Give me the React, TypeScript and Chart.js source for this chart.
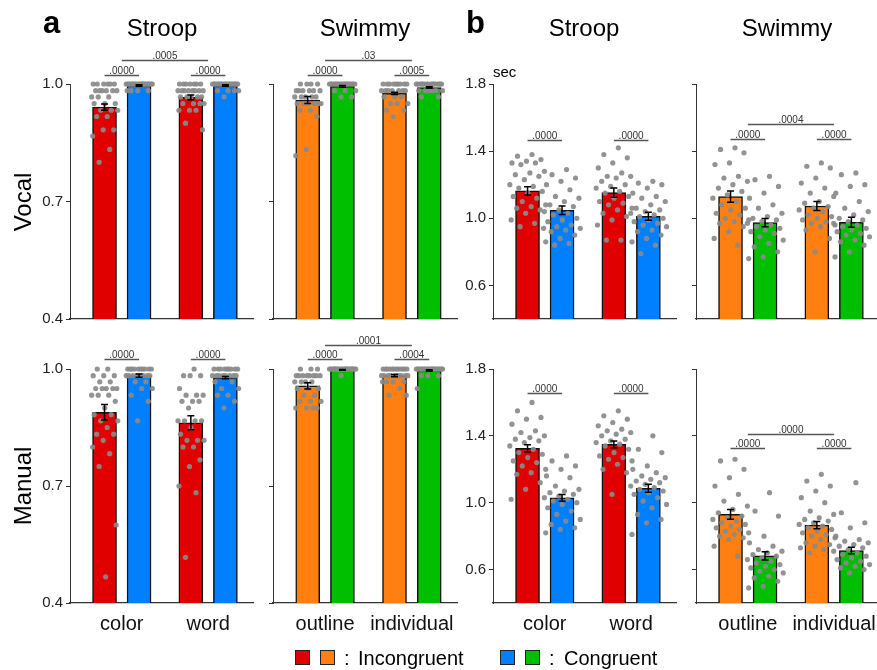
import React, { useEffect, useRef } from 'react';
import { Chart, registerables } from 'chart.js';
Chart.register(...registerables);

const FONT = '"Liberation Sans", Arial, Helvetica, sans-serif';
Chart.defaults.font.family = FONT;

// ---------- categories & ticks ----------
const stroopCats = ['color', 'word'];
const swimmyCats = ['outline', 'individual'];
const accTicks = [0.4, 0.7, 1.0];
const rtTicks = [0.6, 1.0, 1.4, 1.8];

// ---------- (a) accuracy, Vocal, Stroop ----------  order: [color-inc, color-cong, word-inc, word-cong]
const accVocalStroopMean = [0.941, 0.996, 0.966, 0.996];
const accVocalStroopSem = [0.008, 0.002, 0.006, 0.002];
const accVocalStroopColorInc = [1, 1, 1, 1, 1, 1, 0.983, 0.983, 0.983, 0.983, 0.983, 0.983, 0.967, 0.967, 0.967, 0.95, 0.95, 0.95, 0.933, 0.933, 0.933, 0.917, 0.917, 0.883, 0.883, 0.867, 0.833, 0.8];
const accVocalStroopColorCong = [1, 1, 1, 1, 1, 1, 1, 1, 1, 1, 1, 1, 1, 1, 1, 1, 1, 1, 1, 1, 1, 1, 0.983, 0.983, 0.983, 0.983];
const accVocalStroopWordInc = [1, 1, 1, 1, 1, 1, 1, 0.983, 0.983, 0.983, 0.983, 0.983, 0.983, 0.983, 0.983, 0.967, 0.967, 0.967, 0.967, 0.967, 0.95, 0.95, 0.95, 0.95, 0.933, 0.933, 0.933, 0.9, 0.883];
const accVocalStroopWordCong = [1, 1, 1, 1, 1, 1, 1, 1, 1, 1, 1, 1, 1, 1, 1, 1, 1, 1, 1, 1, 0.983, 0.983, 0.983, 0.983, 0.967];
const accVocalStroopPairP = ['.0000', '.0000'];
const accVocalStroopTopP = '.0005';

// ---------- (a) accuracy, Vocal, Swimmy ----------
const accVocalSwimmyMean = [0.959, 0.994, 0.976, 0.991];
const accVocalSwimmySem = [0.009, 0.002, 0.003, 0.002];
const accVocalSwimmyOutlineInc = [1, 1, 1, 1, 0.983, 0.983, 0.983, 0.983, 0.983, 0.983, 0.967, 0.967, 0.967, 0.967, 0.967, 0.95, 0.95, 0.95, 0.95, 0.95, 0.95, 0.933, 0.933, 0.917, 0.833, 0.817];
const accVocalSwimmyOutlineCong = [1, 1, 1, 1, 1, 1, 1, 1, 1, 1, 1, 1, 1, 1, 1, 1, 1, 1, 1, 1, 0.983, 0.983, 0.983, 0.967, 0.967];
const accVocalSwimmyIndivInc = [1, 1, 1, 1, 1, 1, 1, 1, 1, 0.983, 0.983, 0.983, 0.983, 0.983, 0.983, 0.983, 0.967, 0.967, 0.967, 0.95, 0.95, 0.95, 0.933, 0.933, 0.917];
const accVocalSwimmyIndivCong = [1, 1, 1, 1, 1, 1, 1, 1, 1, 1, 1, 1, 1, 1, 1, 1, 0.983, 0.983, 0.983, 0.983, 0.983, 0.983, 0.967, 0.967];
const accVocalSwimmyPairP = ['.0000', '.0005'];
const accVocalSwimmyTopP = '.03';

// ---------- (a) accuracy, Manual, Stroop ----------
const accManualStroopMean = [0.889, 0.983, 0.862, 0.978];
const accManualStroopSem = [0.02, 0.004, 0.018, 0.003];
const accManualStroopColorInc = [1, 1, 0.983, 0.983, 0.983, 0.967, 0.967, 0.95, 0.95, 0.95, 0.95, 0.95, 0.933, 0.933, 0.933, 0.917, 0.9, 0.883, 0.883, 0.867, 0.867, 0.85, 0.833, 0.833, 0.817, 0.8, 0.783, 0.75, 0.6, 0.467];
const accManualStroopColorCong = [1, 1, 1, 1, 1, 1, 1, 1, 1, 1, 0.983, 0.983, 0.983, 0.983, 0.983, 0.983, 0.983, 0.983, 0.967, 0.967, 0.95, 0.95, 0.933, 0.917, 0.867];
const accManualStroopWordInc = [1, 0.983, 0.983, 0.983, 0.95, 0.933, 0.933, 0.933, 0.917, 0.917, 0.917, 0.9, 0.867, 0.867, 0.867, 0.867, 0.85, 0.833, 0.817, 0.817, 0.817, 0.8, 0.8, 0.767, 0.75, 0.7, 0.683, 0.517];
const accManualStroopWordCong = [1, 1, 1, 1, 1, 1, 1, 1, 1, 0.983, 0.983, 0.983, 0.983, 0.983, 0.983, 0.983, 0.983, 0.967, 0.967, 0.95, 0.95, 0.933, 0.933, 0.917, 0.9];
const accManualStroopPairP = ['.0000', '.0000'];

// ---------- (a) accuracy, Manual, Swimmy ----------
const accManualSwimmyMean = [0.957, 0.998, 0.983, 0.996];
const accManualSwimmySem = [0.008, 0.001, 0.003, 0.002];
const accManualSwimmyOutlineInc = [1, 1, 1, 0.983, 0.983, 0.983, 0.983, 0.983, 0.983, 0.983, 0.983, 0.967, 0.967, 0.967, 0.967, 0.95, 0.95, 0.95, 0.933, 0.933, 0.917, 0.917, 0.917, 0.9, 0.9, 0.9, 0.9];
const accManualSwimmyOutlineCong = [1, 1, 1, 1, 1, 1, 1, 1, 1, 1, 1, 1, 1, 1, 1, 1, 1, 1, 1, 1, 1, 1, 1, 1, 0.983];
const accManualSwimmyIndivInc = [1, 1, 1, 1, 1, 1, 1, 1, 1, 1, 1, 1, 0.983, 0.983, 0.983, 0.983, 0.983, 0.983, 0.983, 0.983, 0.983, 0.983, 0.967, 0.967, 0.967, 0.967, 0.95, 0.933, 0.933];
const accManualSwimmyIndivCong = [1, 1, 1, 1, 1, 1, 1, 1, 1, 1, 1, 1, 1, 1, 1, 1, 1, 1, 1, 1, 1, 1, 0.983, 0.983, 0.983, 0.95];
const accManualSwimmyPairP = ['.0000', '.0004'];
const accManualSwimmyTopP = '.0001';

// ---------- (b) RT, Vocal, Stroop ----------
const rtVocalStroopMean = [1.163, 1.048, 1.153, 1.012];
const rtVocalStroopSem = [0.025, 0.025, 0.027, 0.024];
const rtVocalStroopColorInc = [1.38, 1.37, 1.35, 1.34, 1.33, 1.33, 1.32, 1.28, 1.27, 1.26, 1.25, 1.23, 1.2, 1.19, 1.18, 1.16, 1.15, 1.13, 1.12, 1.1, 1.08, 1.07, 1.06, 1.05, 1.03, 0.99, 0.97, 0.95, 0.94];
const rtVocalStroopColorCong = [1.29, 1.26, 1.24, 1.22, 1.2, 1.17, 1.13, 1.12, 1.1, 1.08, 1.07, 1.05, 1.04, 1.03, 1.02, 1.0, 0.99, 0.98, 0.96, 0.95, 0.94, 0.93, 0.92, 0.9, 0.88, 0.86, 0.85, 0.84];
const rtVocalStroopWordInc = [1.42, 1.38, 1.36, 1.33, 1.3, 1.27, 1.25, 1.25, 1.24, 1.22, 1.2, 1.19, 1.18, 1.16, 1.15, 1.13, 1.12, 1.1, 1.09, 1.08, 1.06, 1.05, 1.03, 1.01, 0.99, 0.96, 0.87, 0.87];
const rtVocalStroopWordCong = [1.22, 1.21, 1.2, 1.18, 1.15, 1.13, 1.12, 1.1, 1.08, 1.06, 1.05, 1.04, 1.03, 1.02, 1.01, 1.0, 0.99, 0.98, 0.97, 0.96, 0.95, 0.93, 0.92, 0.9, 0.88, 0.86, 0.84, 0.79];
const rtVocalStroopPairP = ['.0000', '.0000'];

// ---------- (b) RT, Vocal, Swimmy ----------
const rtVocalSwimmyMean = [1.129, 0.974, 1.073, 0.976];
const rtVocalSwimmySem = [0.034, 0.025, 0.027, 0.03];
const rtVocalSwimmyOutlineInc = [1.42, 1.41, 1.39, 1.33, 1.32, 1.25, 1.24, 1.22, 1.2, 1.18, 1.16, 1.14, 1.12, 1.1, 1.08, 1.06, 1.05, 1.03, 1.02, 1.0, 0.99, 0.98, 0.97, 0.95, 0.92, 0.88, 0.84];
const rtVocalSwimmyOutlineCong = [1.25, 1.23, 1.19, 1.15, 1.12, 1.08, 1.06, 1.03, 1.01, 1.0, 0.99, 0.98, 0.97, 0.96, 0.95, 0.94, 0.93, 0.92, 0.91, 0.89, 0.87, 0.85, 0.83, 0.8, 0.77, 0.76];
const rtVocalSwimmyIndivInc = [1.33, 1.31, 1.3, 1.24, 1.21, 1.18, 1.15, 1.13, 1.1, 1.09, 1.07, 1.06, 1.05, 1.04, 1.02, 1.01, 1.0, 0.99, 0.98, 0.97, 0.96, 0.95, 0.93, 0.88, 0.8];
const rtVocalSwimmyIndivCong = [1.27, 1.26, 1.2, 1.19, 1.15, 1.1, 1.06, 1.04, 1.02, 1.0, 0.99, 0.98, 0.97, 0.96, 0.95, 0.94, 0.93, 0.92, 0.91, 0.9, 0.89, 0.87, 0.86, 0.84, 0.8, 0.77];
const rtVocalSwimmyPairP = ['.0000', '.0000'];
const rtVocalSwimmyTopP = '.0004';

// ---------- (b) RT, Manual, Stroop ----------
const rtManualStroopMean = [1.325, 1.029, 1.349, 1.086];
const rtManualStroopSem = [0.022, 0.02, 0.02, 0.024];
const rtManualStroopColorInc = [1.6, 1.55, 1.51, 1.5, 1.47, 1.43, 1.42, 1.4, 1.39, 1.38, 1.37, 1.36, 1.34, 1.32, 1.3, 1.29, 1.27, 1.25, 1.24, 1.22, 1.2, 1.18, 1.17, 1.12, 1.08, 1.02];
const rtManualStroopColorCong = [1.28, 1.25, 1.22, 1.2, 1.16, 1.15, 1.1, 1.08, 1.07, 1.06, 1.05, 1.04, 1.03, 1.02, 1.01, 1.0, 0.99, 0.97, 0.95, 0.93, 0.9, 0.89, 0.87, 0.85, 0.84, 0.82];
const rtManualStroopWordInc = [1.55, 1.52, 1.5, 1.48, 1.46, 1.44, 1.43, 1.42, 1.41, 1.4, 1.38, 1.37, 1.36, 1.35, 1.34, 1.32, 1.3, 1.28, 1.27, 1.26, 1.25, 1.23, 1.2, 1.18, 1.05];
const rtManualStroopWordCong = [1.4, 1.32, 1.3, 1.22, 1.2, 1.18, 1.16, 1.15, 1.14, 1.13, 1.12, 1.11, 1.1, 1.09, 1.08, 1.07, 1.06, 1.05, 1.03, 1.01, 0.99, 0.97, 0.93, 0.9, 0.88, 0.81];
const rtManualStroopPairP = ['.0000', '.0000'];

// ---------- (b) RT, Manual, Swimmy ----------
const rtManualSwimmyMean = [0.93, 0.682, 0.866, 0.714];
const rtManualSwimmySem = [0.029, 0.024, 0.022, 0.02];
const rtManualSwimmyOutlineInc = [1.26, 1.25, 1.2, 1.15, 1.1, 1.05, 1.01, 0.98, 0.96, 0.94, 0.92, 0.91, 0.9, 0.89, 0.88, 0.87, 0.86, 0.85, 0.84, 0.83, 0.82, 0.81, 0.8, 0.79, 0.78, 0.74, 0.68];
const rtManualSwimmyOutlineCong = [1.06, 0.95, 0.92, 0.8, 0.76, 0.74, 0.72, 0.71, 0.7, 0.69, 0.68, 0.67, 0.66, 0.65, 0.64, 0.63, 0.62, 0.61, 0.6, 0.59, 0.58, 0.56, 0.55, 0.53, 0.5, 0.49];
const rtManualSwimmyIndivInc = [1.17, 1.13, 1.1, 1.07, 1.03, 1.0, 0.95, 0.93, 0.91, 0.9, 0.89, 0.88, 0.87, 0.86, 0.85, 0.84, 0.83, 0.82, 0.81, 0.8, 0.79, 0.78, 0.76, 0.75, 0.74, 0.73, 0.72, 0.7];
const rtManualSwimmyIndivCong = [1.12, 0.94, 0.88, 0.85, 0.8, 0.78, 0.77, 0.76, 0.75, 0.74, 0.73, 0.72, 0.71, 0.7, 0.69, 0.68, 0.67, 0.66, 0.65, 0.64, 0.63, 0.62, 0.61, 0.6, 0.58];
const rtManualSwimmyPairP = ['.0000', '.0000'];
const rtManualSwimmyTopP = '.0000';

// ---------- styles ----------
const RED = '#e00000';
const BLUE = '#0080ff';
const ORANGE = '#ff8010';
const GREEN = '#00bf00';
const DOT = 'rgba(138,138,138,0.92)';
const AXIS = '#333';

const Y_W = 50;
const PAD_TOP = 50;
const PAD_R = 6;
const X_H = 40;
const X_MIN = -0.6;
const X_MAX = 1.52;
const BAR_OFF = 0.2;

type Bracket = { x1: number; x2: number; y: number; label: string };

type Spec = {
  id: string;
  plotLeft: number;
  plotTop: number;
  plotW: number;
  plotH: number;
  kind: 'acc' | 'rt';
  cats: string[];
  showY: boolean;
  showX: boolean;
  inc: string;
  cong: string;
  mean: number[];
  sem: number[];
  dots: number[][];
  brackets: Bracket[];
};

function pairBrackets(labels: string[], y: number): Bracket[] {
  return labels.map((l, i) => ({ x1: i - BAR_OFF, x2: i + BAR_OFF, y, label: l }));
}
function topBracket(label: string | undefined, y: number): Bracket[] {
  return label ? [{ x1: 0, x2: 1, y, label }] : [];
}

const SPECS: Spec[] = [
  {
    id: 'aVS', plotLeft: 70, plotTop: 84, plotW: 183, plotH: 235, kind: 'acc', cats: stroopCats,
    showY: true, showX: false, inc: RED, cong: BLUE, mean: accVocalStroopMean, sem: accVocalStroopSem,
    dots: [accVocalStroopColorInc, accVocalStroopColorCong, accVocalStroopWordInc, accVocalStroopWordCong],
    brackets: [...pairBrackets(accVocalStroopPairP, 1.023), ...topBracket(accVocalStroopTopP, 1.06)],
  },
  {
    id: 'aVW', plotLeft: 273, plotTop: 84, plotW: 184, plotH: 235, kind: 'acc', cats: swimmyCats,
    showY: false, showX: false, inc: ORANGE, cong: GREEN, mean: accVocalSwimmyMean, sem: accVocalSwimmySem,
    dots: [accVocalSwimmyOutlineInc, accVocalSwimmyOutlineCong, accVocalSwimmyIndivInc, accVocalSwimmyIndivCong],
    brackets: [...pairBrackets(accVocalSwimmyPairP, 1.023), ...topBracket(accVocalSwimmyTopP, 1.06)],
  },
  {
    id: 'bVS', plotLeft: 493, plotTop: 84, plotW: 183, plotH: 235, kind: 'rt', cats: stroopCats,
    showY: true, showX: false, inc: RED, cong: BLUE, mean: rtVocalStroopMean, sem: rtVocalStroopSem,
    dots: [rtVocalStroopColorInc, rtVocalStroopColorCong, rtVocalStroopWordInc, rtVocalStroopWordCong],
    brackets: [...pairBrackets(rtVocalStroopPairP, 1.466)],
  },
  {
    id: 'bVW', plotLeft: 696, plotTop: 84, plotW: 183, plotH: 235, kind: 'rt', cats: swimmyCats,
    showY: false, showX: false, inc: ORANGE, cong: GREEN, mean: rtVocalSwimmyMean, sem: rtVocalSwimmySem,
    dots: [rtVocalSwimmyOutlineInc, rtVocalSwimmyOutlineCong, rtVocalSwimmyIndivInc, rtVocalSwimmyIndivCong],
    brackets: [...pairBrackets(rtVocalSwimmyPairP, 1.474), ...topBracket(rtVocalSwimmyTopP, 1.56)],
  },
  {
    id: 'aMS', plotLeft: 70, plotTop: 369, plotW: 183, plotH: 234, kind: 'acc', cats: stroopCats,
    showY: true, showX: true, inc: RED, cong: BLUE, mean: accManualStroopMean, sem: accManualStroopSem,
    dots: [accManualStroopColorInc, accManualStroopColorCong, accManualStroopWordInc, accManualStroopWordCong],
    brackets: [...pairBrackets(accManualStroopPairP, 1.025)],
  },
  {
    id: 'aMW', plotLeft: 273, plotTop: 369, plotW: 184, plotH: 234, kind: 'acc', cats: swimmyCats,
    showY: false, showX: true, inc: ORANGE, cong: GREEN, mean: accManualSwimmyMean, sem: accManualSwimmySem,
    dots: [accManualSwimmyOutlineInc, accManualSwimmyOutlineCong, accManualSwimmyIndivInc, accManualSwimmyIndivCong],
    brackets: [...pairBrackets(accManualSwimmyPairP, 1.025), ...topBracket(accManualSwimmyTopP, 1.0615)],
  },
  {
    id: 'bMS', plotLeft: 493, plotTop: 369, plotW: 183, plotH: 234, kind: 'rt', cats: stroopCats,
    showY: true, showX: true, inc: RED, cong: BLUE, mean: rtManualStroopMean, sem: rtManualStroopSem,
    dots: [rtManualStroopColorInc, rtManualStroopColorCong, rtManualStroopWordInc, rtManualStroopWordCong],
    brackets: [...pairBrackets(rtManualStroopPairP, 1.654)],
  },
  {
    id: 'bMW', plotLeft: 696, plotTop: 369, plotW: 183, plotH: 234, kind: 'rt', cats: swimmyCats,
    showY: false, showX: true, inc: ORANGE, cong: GREEN, mean: rtManualSwimmyMean, sem: rtManualSwimmySem,
    dots: [rtManualSwimmyOutlineInc, rtManualSwimmyOutlineCong, rtManualSwimmyIndivInc, rtManualSwimmyIndivCong],
    brackets: [...pairBrackets(rtManualSwimmyPairP, 1.325), ...topBracket(rtManualSwimmyTopP, 1.409)],
  },
];

// deterministic horizontal spread of dots (layout only)
const GOLDEN = 0.6180339887;
function spreadOffset(i: number, half: number) {
  const f = ((i + 1) * GOLDEN) % 1;
  return (f - 0.5) * 2 * half;
}

const errorBarPlugin = {
  id: 'errorBars',
  afterDatasetsDraw(chart: any) {
    const dsIndex = chart.data.datasets.findIndex((d: any) => d.errors);
    if (dsIndex < 0) return;
    const ds = chart.data.datasets[dsIndex];
    const meta = chart.getDatasetMeta(dsIndex);
    const ys = chart.scales.y;
    const ctx = chart.ctx;
    ctx.save();
    ctx.strokeStyle = '#000';
    ctx.lineWidth = 1.5;
    meta.data.forEach((bar: any, i: number) => {
      const m = ds.data[i].y;
      const e = ds.errors[i];
      const x = bar.x;
      const y1 = ys.getPixelForValue(m - e);
      const y2 = ys.getPixelForValue(m + e);
      ctx.beginPath();
      ctx.moveTo(x, y1); ctx.lineTo(x, y2);
      ctx.moveTo(x - 3.5, y1); ctx.lineTo(x + 3.5, y1);
      ctx.moveTo(x - 3.5, y2); ctx.lineTo(x + 3.5, y2);
      ctx.stroke();
    });
    ctx.restore();
  },
};

const bracketPlugin = {
  id: 'sigBrackets',
  afterDraw(chart: any, _args: any, opts: any) {
    const items: Bracket[] = opts.items || [];
    const xs = chart.scales.x;
    const ys = chart.scales.y;
    const ctx = chart.ctx;
    ctx.save();
    items.forEach((b) => {
      const x1 = xs.getPixelForValue(b.x1);
      const x2 = xs.getPixelForValue(b.x2);
      const y = Math.round(ys.getPixelForValue(b.y)) + 0.5;
      ctx.strokeStyle = '#555';
      ctx.lineWidth = 1.3;
      ctx.beginPath();
      ctx.moveTo(x1, y); ctx.lineTo(x2, y);
      ctx.stroke();
      ctx.fillStyle = '#333';
      ctx.font = `10px ${FONT}`;
      ctx.textAlign = 'center';
      ctx.textBaseline = 'alphabetic';
      ctx.fillText(b.label, (x1 + x2) / 2, y - 2);
    });
    ctx.restore();
  },
};

function Panel({ spec }: { spec: Spec }) {
  const ref = useRef<HTMLCanvasElement>(null);
  const cw = Y_W + spec.plotW + PAD_R;
  const ch = PAD_TOP + spec.plotH + X_H;
  useEffect(() => {
    const xs = [-BAR_OFF, BAR_OFF, 1 - BAR_OFF, 1 + BAR_OFF];
    const half = spec.kind === 'acc' ? 0.16 : 0.22;
    const dotData: { x: number; y: number }[] = [];
    spec.dots.forEach((g, gi) => {
      g.forEach((v, i) => dotData.push({ x: xs[gi] + spreadOffset(i, half), y: v }));
    });
    const barData = spec.mean.map((m, i) => ({ x: xs[i], y: m }));
    const ticks = spec.kind === 'acc' ? accTicks : rtTicks;
    const yMin = 0.4;
    const yMax = spec.kind === 'acc' ? 1.0 : 1.8;
    const chart = new Chart(ref.current as HTMLCanvasElement, {
      type: 'bar',
      data: {
        datasets: [
          {
            type: 'scatter',
            data: dotData,
            pointRadius: 2.6,
            pointBackgroundColor: DOT,
            pointBorderWidth: 0,
            clip: false,
            order: 0,
          } as any,
          {
            type: 'bar',
            data: barData,
            backgroundColor: [spec.inc, spec.cong, spec.inc, spec.cong],
            borderColor: '#111',
            borderWidth: 1.5,
            barThickness: 24,
            grouped: false,
            order: 1,
            errors: spec.sem,
          } as any,
        ],
      },
      options: {
        animation: false,
        responsive: false,
        events: [],
        layout: { padding: { top: PAD_TOP, left: 0, right: PAD_R, bottom: 0 } },
        plugins: {
          legend: { display: false },
          tooltip: { enabled: false },
          sigBrackets: { items: spec.brackets },
        } as any,
        scales: {
          x: {
            type: 'linear',
            min: X_MIN,
            max: X_MAX,
            offset: false,
            grid: { display: false },
            border: { display: true, color: AXIS, width: 1.3 },
            afterBuildTicks: (s: any) => { s.ticks = spec.cats.map((_, i) => ({ value: i })); },
            ticks: {
              display: spec.showX,
              autoSkip: false,
              maxRotation: 0,
              padding: 1,
              color: '#111',
              font: { size: 20, family: FONT },
              callback: (_v: any, i: number) => spec.cats[i],
            },
            afterFit: (s: any) => { s.height = X_H; },
          },
          y: {
            type: 'linear',
            min: yMin,
            max: yMax,
            afterBuildTicks: (s: any) => { s.ticks = ticks.map((v) => ({ value: v })); },
            grid: { drawOnChartArea: false, drawTicks: true, tickLength: 4, color: AXIS },
            border: { display: true, color: AXIS, width: 1 },
            ticks: {
              padding: 3,
              color: '#222',
              font: { size: 15, family: FONT },
              callback: (v: any) => (spec.showY ? Number(v).toFixed(1) : ''),
            },
            afterFit: (s: any) => { s.width = Y_W; },
          },
        },
      } as any,
      plugins: [errorBarPlugin, bracketPlugin],
    });
    return () => chart.destroy();
  }, []);
  return (
    <canvas
      ref={ref}
      width={cw}
      height={ch}
      style={{
        position: 'absolute',
        left: spec.plotLeft - Y_W,
        top: spec.plotTop - PAD_TOP,
        width: cw,
        height: ch,
      }}
    />
  );
}

function Txt(props: { x: number; baseline: number; size: number; text: string; bold?: boolean; align?: 'left' | 'center' }) {
  const { x, baseline, size, text, bold, align = 'left' } = props;
  const top = baseline - 0.8465 * size;
  const w = 240;
  return (
    <div
      style={{
        position: 'absolute',
        left: align === 'center' ? x - w / 2 : x,
        top,
        width: align === 'center' ? w : undefined,
        textAlign: align,
        fontSize: size,
        lineHeight: `${size}px`,
        fontWeight: bold ? 'bold' : 'normal',
        color: '#000',
        whiteSpace: 'nowrap',
      }}
    >
      {text}
    </div>
  );
}

function VText({ cx, cy, size, text }: { cx: number; cy: number; size: number; text: string }) {
  return (
    <div
      style={{
        position: 'absolute',
        left: cx - 100,
        top: cy - size / 2,
        width: 200,
        height: size,
        lineHeight: `${size}px`,
        fontSize: size,
        textAlign: 'center',
        transform: 'rotate(-90deg)',
        color: '#000',
        whiteSpace: 'nowrap',
      }}
    >
      {text}
    </div>
  );
}

function Swatch({ x, y, color }: { x: number; y: number; color: string }) {
  return (
    <div
      style={{
        position: 'absolute',
        left: x,
        top: y,
        width: 13,
        height: 13,
        background: color,
        border: '1px solid #222',
      }}
    />
  );
}

export default function App() {
  return (
    <div
      style={{
        position: 'absolute',
        left: 0,
        top: 0,
        width: 877,
        height: 670,
        overflow: 'hidden',
        background: '#fff',
        fontFamily: FONT,
      }}
    >
      {SPECS.map((s) => (
        <Panel key={s.id} spec={s} />
      ))}
      <Txt x={43} baseline={33} size={31} text="a" bold />
      <Txt x={466} baseline={33} size={31} text="b" bold />
      <Txt x={162} baseline={36} size={24} text="Stroop" align="center" />
      <Txt x={365} baseline={36} size={24} text="Swimmy" align="center" />
      <Txt x={584} baseline={36} size={24} text="Stroop" align="center" />
      <Txt x={787} baseline={36} size={24} text="Swimmy" align="center" />
      <Txt x={493} baseline={77} size={15} text="sec" />
      <VText cx={23} cy={202} size={24} text="Vocal" />
      <VText cx={23} cy={486} size={24} text="Manual" />
      <Swatch x={295} y={650} color={RED} />
      <Swatch x={320} y={650} color={ORANGE} />
      <Txt x={344} baseline={665} size={20} text=":" />
      <Txt x={358} baseline={665} size={20} text="Incongruent" />
      <Swatch x={500} y={650} color={BLUE} />
      <Swatch x={525} y={650} color={GREEN} />
      <Txt x={549} baseline={665} size={20} text=":" />
      <Txt x={564} baseline={665} size={20} text="Congruent" />
    </div>
  );
}
